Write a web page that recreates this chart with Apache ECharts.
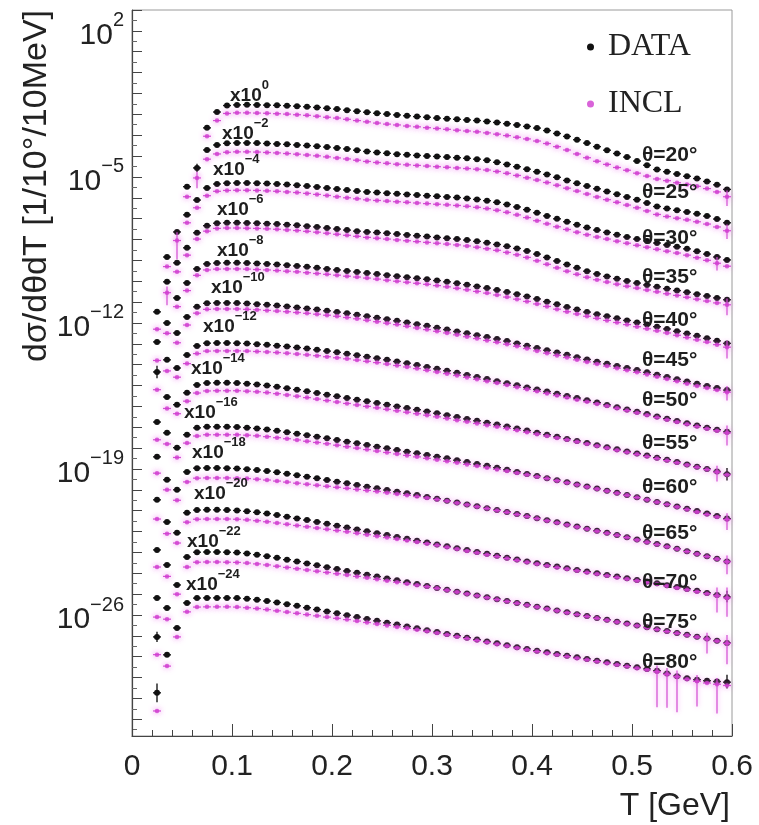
<!DOCTYPE html>
<html>
<head>
<meta charset="utf-8">
<script src="https://cdn.jsdelivr.net/npm/echarts@6/dist/echarts.min.js"></script>
<style>
html, body { margin: 0; padding: 0; background: #fff; }
#chart { width: 759px; height: 825px; }
</style>
</head>
<body>
<div id="chart"></div>
<script>
// Kinetic-energy bin centres [GeV] (10 MeV bins)
const energies = [
  0.025,0.035,0.045,0.055,0.065,0.075,0.085,0.095,0.105,0.115,
  0.125,0.135,0.145,0.155,0.165,0.175,0.185,0.195,0.205,0.215,
  0.225,0.235,0.245,0.255,0.265,0.275,0.285,0.295,0.305,0.315,
  0.325,0.335,0.345,0.355,0.365,0.375,0.385,0.395,0.405,0.415,
  0.425,0.435,0.445,0.455,0.465,0.475,0.485,0.495,0.505,0.515,
  0.525,0.535,0.545,0.555,0.565,0.575,0.585,0.595
];

// Emission angles [deg] and the power of ten each spectrum is multiplied by
const angles = [20, 25, 30, 35, 40, 45, 50, 55, 60, 65, 70, 75, 80];
const scaleExp = [0, -2, -4, -6, -8, -10, -12, -14, -16, -18, -20, -22, -24];

// log10 of dσ/dθdT (unscaled), measured
const data20 = [
  null,null,null,null,null,-2.65,-1.89,-1.58,-1.55,-1.54,
  -1.55,-1.56,-1.57,-1.59,-1.61,-1.64,-1.67,-1.71,-1.75,-1.80,
  -1.85,-1.90,-1.95,-1.99,-2.03,-2.07,-2.11,-2.14,-2.18,-2.21,
  -2.24,-2.27,-2.30,-2.34,-2.39,-2.45,-2.51,-2.58,-2.66,-2.78,
  -2.92,-3.06,-3.22,-3.38,-3.55,-3.72,-3.88,-4.05,-4.24,-4.44,
  -4.65,-4.75,-4.86,-4.97,-5.08,-5.22,-5.38,-5.60
];
const data25 = [
  null,null,null,-3.47,-2.57,-1.71,-1.47,-1.39,-1.37,-1.37,
  -1.38,-1.40,-1.42,-1.44,-1.47,-1.50,-1.53,-1.57,-1.61,-1.66,
  -1.72,-1.78,-1.83,-1.87,-1.91,-1.94,-1.97,-2.00,-2.02,-2.05,
  -2.08,-2.11,-2.15,-2.20,-2.30,-2.40,-2.51,-2.63,-2.75,-2.88,
  -3.02,-3.17,-3.31,-3.44,-3.57,-3.70,-3.83,-3.96,-4.09,-4.25,
  -4.42,-4.52,-4.60,-4.68,-4.77,-4.88,-5.02,-5.20
];
const data30 = [
  null,-4.84,-3.64,-2.82,-2.11,-1.53,-1.34,-1.30,-1.29,-1.29,
  -1.30,-1.32,-1.34,-1.37,-1.40,-1.44,-1.48,-1.53,-1.58,-1.63,
  -1.68,-1.72,-1.75,-1.78,-1.81,-1.84,-1.87,-1.90,-1.93,-1.96,
  -1.99,-2.03,-2.08,-2.14,-2.22,-2.32,-2.44,-2.57,-2.72,-2.87,
  -3.01,-3.15,-3.29,-3.43,-3.55,-3.66,-3.77,-3.88,-3.98,-4.07,
  -4.17,-4.26,-4.35,-4.45,-4.57,-4.70,-4.84,-4.98
];
const data35 = [
  -5.47,-4.03,-3.12,-2.40,-1.68,-1.34,-1.22,-1.20,-1.20,-1.21,
  -1.22,-1.24,-1.26,-1.29,-1.32,-1.36,-1.40,-1.45,-1.50,-1.55,
  -1.60,-1.64,-1.67,-1.70,-1.74,-1.78,-1.82,-1.86,-1.90,-1.94,
  -1.98,-2.03,-2.09,-2.16,-2.24,-2.33,-2.43,-2.55,-2.70,-2.86,
  -3.03,-3.20,-3.36,-3.52,-3.65,-3.77,-3.88,-3.99,-4.09,-4.18,
  -4.27,-4.36,-4.45,-4.53,-4.62,-4.71,-4.80,-4.89
];
const data40 = [
  -4.91,-4.00,-2.80,-2.08,-1.41,-1.17,-1.13,-1.12,-1.12,-1.13,
  -1.15,-1.17,-1.20,-1.23,-1.27,-1.31,-1.36,-1.41,-1.46,-1.51,
  -1.56,-1.61,-1.66,-1.71,-1.76,-1.81,-1.86,-1.91,-1.97,-2.03,
  -2.10,-2.17,-2.25,-2.33,-2.42,-2.52,-2.62,-2.73,-2.85,-2.98,
  -3.11,-3.24,-3.36,-3.48,-3.58,-3.68,-3.78,-3.88,-3.98,-4.08,
  -4.18,-4.29,-4.40,-4.51,-4.62,-4.74,-4.86,-4.98
];
const data45 = [
  -4.35,-3.77,-2.48,-1.71,-1.23,-1.06,-1.04,-1.04,-1.05,-1.07,
  -1.10,-1.13,-1.17,-1.21,-1.26,-1.31,-1.36,-1.42,-1.48,-1.54,
  -1.61,-1.68,-1.75,-1.82,-1.90,-1.98,-2.06,-2.14,-2.23,-2.32,
  -2.41,-2.50,-2.59,-2.68,-2.77,-2.87,-2.98,-3.09,-3.20,-3.31,
  -3.42,-3.53,-3.64,-3.75,-3.86,-3.96,-4.06,-4.16,-4.26,-4.37,
  -4.48,-4.59,-4.70,-4.81,-4.92,-5.02,-5.12,-5.22
];
const data50 = [
  -4.75,-3.55,-2.16,-1.54,-1.10,-0.97,-0.96,-0.96,-0.97,-0.99,
  -1.02,-1.05,-1.09,-1.13,-1.18,-1.23,-1.29,-1.35,-1.41,-1.48,
  -1.55,-1.62,-1.69,-1.77,-1.85,-1.93,-2.02,-2.11,-2.20,-2.29,
  -2.39,-2.49,-2.59,-2.69,-2.79,-2.89,-2.99,-3.09,-3.19,-3.29,
  -3.39,-3.50,-3.60,-3.71,-3.82,-3.93,-4.04,-4.15,-4.26,-4.37,
  -4.48,-4.59,-4.70,-4.81,-4.92,-5.02,-5.12,-5.22
];
const data55 = [
  -4.42,-3.27,-1.92,-1.35,-0.97,-0.88,-0.87,-0.87,-0.88,-0.91,
  -0.95,-1.00,-1.06,-1.13,-1.20,-1.28,-1.36,-1.44,-1.52,-1.60,
  -1.68,-1.76,-1.84,-1.92,-2.00,-2.08,-2.16,-2.24,-2.33,-2.42,
  -2.51,-2.60,-2.69,-2.78,-2.87,-2.96,-3.06,-3.16,-3.26,-3.36,
  -3.46,-3.56,-3.66,-3.76,-3.86,-3.96,-4.06,-4.16,-4.26,-4.36,
  -4.46,-4.56,-4.67,-4.78,-4.89,-5.00,-5.12,-5.25
];
const data60 = [
  -4.48,-3.52,-1.98,-1.36,-1.03,-0.98,-0.98,-0.98,-0.99,-1.02,
  -1.06,-1.11,-1.17,-1.24,-1.31,-1.38,-1.45,-1.53,-1.61,-1.69,
  -1.77,-1.85,-1.93,-2.01,-2.09,-2.17,-2.25,-2.33,-2.41,-2.49,
  -2.58,-2.67,-2.76,-2.85,-2.94,-3.04,-3.14,-3.24,-3.34,-3.44,
  -3.54,-3.64,-3.74,-3.84,-3.94,-4.04,-4.14,-4.25,-4.36,-4.47,
  -4.58,-4.69,-4.80,-4.91,-5.02,-5.13,-5.25,-5.38
];
const data65 = [
  -4.88,-3.54,-2.00,-1.14,-0.96,-0.95,-0.95,-0.96,-0.98,-1.01,
  -1.05,-1.10,-1.16,-1.23,-1.30,-1.37,-1.45,-1.53,-1.61,-1.69,
  -1.77,-1.85,-1.93,-2.01,-2.09,-2.17,-2.25,-2.34,-2.43,-2.52,
  -2.61,-2.70,-2.79,-2.88,-2.97,-3.06,-3.16,-3.26,-3.36,-3.46,
  -3.56,-3.66,-3.76,-3.86,-3.96,-4.06,-4.16,-4.27,-4.38,-4.49,
  -4.60,-4.71,-4.82,-4.94,-5.06,-5.18,-5.30,-5.43
];
const data70 = [
  -5.18,-3.60,-2.06,-1.10,-0.97,-0.96,-0.96,-0.97,-0.99,-1.03,
  -1.08,-1.14,-1.21,-1.29,-1.37,-1.45,-1.54,-1.63,-1.72,-1.81,
  -1.90,-1.99,-2.08,-2.17,-2.26,-2.35,-2.44,-2.53,-2.62,-2.71,
  -2.80,-2.89,-2.98,-3.07,-3.16,-3.25,-3.34,-3.43,-3.52,-3.60,
  -3.68,-3.76,-3.84,-3.92,-4.00,-4.08,-4.16,-4.24,-4.32,-4.40,
  -4.48,-4.57,-4.66,-4.75,-4.84,-4.94,-5.04,-5.14
];
const data75 = [
  -5.05,-3.66,-2.56,-1.22,-0.99,-0.98,-0.98,-0.99,-1.01,-1.05,
  -1.11,-1.18,-1.26,-1.35,-1.44,-1.53,-1.62,-1.71,-1.80,-1.89,
  -1.98,-2.07,-2.16,-2.25,-2.34,-2.43,-2.52,-2.61,-2.70,-2.79,
  -2.88,-2.97,-3.06,-3.15,-3.24,-3.33,-3.42,-3.51,-3.60,-3.69,
  -3.78,-3.87,-3.96,-4.05,-4.14,-4.23,-4.32,-4.41,-4.50,-4.59,
  -4.68,-4.77,-4.86,-4.95,-5.04,-5.13,-5.23,-5.34
];
const data80 = [
  -5.73,-3.91,-2.62,-1.42,-1.19,-1.18,-1.18,-1.18,-1.19,-1.22,
  -1.27,-1.33,-1.40,-1.48,-1.56,-1.65,-1.74,-1.83,-1.92,-2.01,
  -2.10,-2.19,-2.28,-2.37,-2.46,-2.55,-2.64,-2.73,-2.82,-2.91,
  -3.00,-3.09,-3.18,-3.27,-3.36,-3.45,-3.54,-3.63,-3.71,-3.79,
  -3.87,-3.95,-4.03,-4.11,-4.19,-4.27,-4.35,-4.43,-4.51,-4.59,
  -4.67,-4.80,-4.93,-5.03,-5.10,-5.15,-5.19,-5.22
];

// log10 of dσ/dθdT (unscaled), INCL calculation
const incl20 = [
  null,null,null,null,null,-3.05,-2.30,-1.96,-1.93,-1.93,
  -1.94,-1.95,-1.97,-1.99,-2.02,-2.05,-2.09,-2.14,-2.18,-2.24,
  -2.30,-2.36,-2.42,-2.47,-2.51,-2.56,-2.60,-2.64,-2.68,-2.72,
  -2.76,-2.80,-2.84,-2.89,-2.95,-3.02,-3.10,-3.18,-3.28,-3.40,
  -3.55,-3.71,-3.90,-4.08,-4.25,-4.40,-4.55,-4.68,-4.82,-4.96,
  -5.10,-5.18,-5.28,-5.36,-5.45,-5.56,-5.72,-5.95
];
const incl25 = [
  null,null,null,-3.95,-3.05,-2.15,-1.90,-1.82,-1.80,-1.80,
  -1.81,-1.83,-1.85,-1.88,-1.91,-1.95,-1.99,-2.04,-2.09,-2.14,
  -2.20,-2.26,-2.31,-2.35,-2.39,-2.42,-2.45,-2.48,-2.51,-2.54,
  -2.57,-2.60,-2.63,-2.67,-2.74,-2.83,-2.93,-3.04,-3.15,-3.27,
  -3.40,-3.54,-3.68,-3.82,-3.96,-4.09,-4.22,-4.35,-4.48,-4.63,
  -4.80,-4.90,-4.98,-5.06,-5.15,-5.26,-5.40,-5.58
];
const incl30 = [
  null,-5.30,-4.05,-3.20,-2.48,-1.90,-1.69,-1.65,-1.64,-1.64,
  -1.65,-1.67,-1.69,-1.72,-1.75,-1.79,-1.84,-1.89,-1.95,-2.00,
  -2.05,-2.10,-2.13,-2.16,-2.19,-2.22,-2.25,-2.28,-2.31,-2.34,
  -2.37,-2.41,-2.46,-2.52,-2.60,-2.70,-2.82,-2.95,-3.10,-3.25,
  -3.39,-3.52,-3.65,-3.77,-3.88,-3.98,-4.08,-4.18,-4.28,-4.37,
  -4.47,-4.56,-4.65,-4.75,-4.87,-5.00,-5.14,-5.28
];
const incl35 = [
  -6.30,-4.55,-3.55,-2.75,-1.98,-1.60,-1.47,-1.45,-1.45,-1.46,
  -1.47,-1.49,-1.51,-1.54,-1.57,-1.61,-1.65,-1.70,-1.75,-1.80,
  -1.85,-1.90,-1.94,-1.98,-2.02,-2.06,-2.10,-2.14,-2.18,-2.22,
  -2.26,-2.31,-2.37,-2.44,-2.52,-2.62,-2.73,-2.86,-3.02,-3.19,
  -3.36,-3.52,-3.67,-3.81,-3.93,-4.04,-4.14,-4.24,-4.33,-4.42,
  -4.51,-4.60,-4.68,-4.77,-4.86,-4.95,-5.04,-5.13
];
const incl40 = [
  -5.80,-4.50,-3.22,-2.45,-1.72,-1.46,-1.42,-1.41,-1.41,-1.42,
  -1.44,-1.46,-1.49,-1.52,-1.55,-1.59,-1.63,-1.67,-1.71,-1.76,
  -1.80,-1.85,-1.90,-1.95,-2.00,-2.05,-2.10,-2.15,-2.21,-2.27,
  -2.34,-2.41,-2.49,-2.57,-2.66,-2.76,-2.86,-2.97,-3.09,-3.21,
  -3.34,-3.46,-3.57,-3.68,-3.78,-3.88,-3.98,-4.08,-4.18,-4.28,
  -4.38,-4.48,-4.59,-4.70,-4.81,-4.92,-5.04,-5.16
];
const incl45 = [
  -5.20,-4.30,-2.95,-2.10,-1.53,-1.35,-1.33,-1.33,-1.33,-1.35,
  -1.37,-1.40,-1.43,-1.46,-1.50,-1.54,-1.58,-1.63,-1.68,-1.74,
  -1.80,-1.87,-1.94,-2.01,-2.08,-2.16,-2.24,-2.32,-2.40,-2.48,
  -2.57,-2.66,-2.75,-2.84,-2.93,-3.02,-3.12,-3.23,-3.34,-3.45,
  -3.56,-3.66,-3.77,-3.87,-3.97,-4.07,-4.17,-4.27,-4.37,-4.47,
  -4.58,-4.69,-4.80,-4.91,-5.02,-5.12,-5.22,-5.32
];
const incl50 = [
  -5.60,-4.10,-2.60,-1.95,-1.47,-1.35,-1.34,-1.34,-1.34,-1.35,
  -1.37,-1.39,-1.42,-1.45,-1.49,-1.53,-1.57,-1.62,-1.67,-1.72,
  -1.78,-1.84,-1.90,-1.97,-2.04,-2.11,-2.19,-2.27,-2.35,-2.43,
  -2.52,-2.61,-2.70,-2.79,-2.88,-2.98,-3.08,-3.18,-3.28,-3.38,
  -3.48,-3.58,-3.68,-3.78,-3.88,-3.98,-4.09,-4.20,-4.31,-4.42,
  -4.53,-4.64,-4.75,-4.86,-4.97,-5.07,-5.17,-5.27
];
const incl55 = [
  -5.20,-3.80,-2.35,-1.75,-1.36,-1.26,-1.25,-1.25,-1.25,-1.27,
  -1.30,-1.34,-1.39,-1.45,-1.51,-1.58,-1.65,-1.72,-1.79,-1.86,
  -1.93,-2.00,-2.07,-2.14,-2.21,-2.28,-2.35,-2.42,-2.50,-2.58,
  -2.66,-2.74,-2.82,-2.90,-2.98,-3.06,-3.15,-3.24,-3.33,-3.42,
  -3.51,-3.60,-3.70,-3.80,-3.90,-4.00,-4.10,-4.20,-4.30,-4.40,
  -4.50,-4.60,-4.70,-4.81,-4.92,-5.03,-5.15,-5.28
];
const incl60 = [
  -5.40,-4.00,-2.45,-1.76,-1.42,-1.36,-1.36,-1.36,-1.36,-1.38,
  -1.41,-1.45,-1.50,-1.55,-1.61,-1.67,-1.73,-1.79,-1.86,-1.93,
  -2.00,-2.07,-2.14,-2.21,-2.28,-2.35,-2.42,-2.49,-2.56,-2.63,
  -2.70,-2.78,-2.86,-2.94,-3.02,-3.10,-3.19,-3.28,-3.37,-3.46,
  -3.56,-3.66,-3.76,-3.86,-3.96,-4.06,-4.16,-4.26,-4.37,-4.48,
  -4.59,-4.70,-4.82,-4.94,-5.06,-5.18,-5.30,-5.42
];
const incl65 = [
  -5.70,-4.10,-2.50,-1.62,-1.44,-1.43,-1.43,-1.43,-1.44,-1.46,
  -1.49,-1.53,-1.58,-1.63,-1.68,-1.73,-1.78,-1.83,-1.88,-1.93,
  -1.98,-2.03,-2.08,-2.14,-2.20,-2.26,-2.32,-2.39,-2.46,-2.54,
  -2.63,-2.72,-2.81,-2.90,-2.99,-3.08,-3.18,-3.28,-3.38,-3.48,
  -3.58,-3.68,-3.78,-3.88,-3.98,-4.08,-4.18,-4.29,-4.40,-4.51,
  -4.62,-4.73,-4.84,-4.96,-5.08,-5.20,-5.32,-5.45
];
const incl70 = [
  -6.10,-4.15,-2.55,-1.55,-1.41,-1.40,-1.40,-1.40,-1.41,-1.44,
  -1.48,-1.53,-1.59,-1.65,-1.71,-1.77,-1.83,-1.89,-1.95,-2.01,
  -2.08,-2.15,-2.22,-2.29,-2.36,-2.43,-2.50,-2.58,-2.66,-2.75,
  -2.84,-2.93,-3.02,-3.11,-3.20,-3.29,-3.38,-3.47,-3.56,-3.64,
  -3.72,-3.80,-3.88,-3.96,-4.04,-4.12,-4.20,-4.28,-4.36,-4.44,
  -4.52,-4.61,-4.70,-4.79,-4.88,-4.98,-5.08,-5.18
];
const incl75 = [
  -5.90,-4.20,-3.00,-1.70,-1.47,-1.46,-1.46,-1.47,-1.48,-1.51,
  -1.55,-1.60,-1.66,-1.72,-1.78,-1.84,-1.90,-1.96,-2.02,-2.08,
  -2.15,-2.22,-2.29,-2.36,-2.43,-2.50,-2.57,-2.64,-2.72,-2.81,
  -2.90,-2.99,-3.08,-3.17,-3.26,-3.35,-3.44,-3.53,-3.62,-3.71,
  -3.80,-3.89,-3.98,-4.07,-4.16,-4.25,-4.34,-4.43,-4.52,-4.61,
  -4.70,-4.79,-4.88,-4.97,-5.06,-5.15,-5.25,-5.36
];
const incl80 = [
  -6.60,-4.45,-3.05,-1.85,-1.62,-1.61,-1.61,-1.61,-1.62,-1.65,
  -1.69,-1.74,-1.80,-1.86,-1.92,-1.98,-2.04,-2.10,-2.16,-2.22,
  -2.29,-2.36,-2.43,-2.50,-2.57,-2.64,-2.71,-2.78,-2.86,-2.95,
  -3.04,-3.13,-3.22,-3.31,-3.40,-3.49,-3.58,-3.67,-3.75,-3.83,
  -3.91,-3.99,-4.07,-4.15,-4.23,-4.31,-4.39,-4.47,-4.55,-4.63,
  -4.72,-4.84,-4.96,-5.08,-5.18,-5.26,-5.32,-5.38
];

// Statistical errors where they are visible: [angle, T, decades down, decades up]
const dataErrors = [
  [80, 0.025, 0.45, 0.45], [75, 0.025, 0.25, 0.25], [45, 0.025, 0.30, 0.30],
  [25, 0.065, 0.20, 0.20], [55, 0.595, 0.30, 0.30], [70, 0.595, 0.25, 0.30],
  [80, 0.595, 0.30, 0.35]
];
const inclErrors = [
  [20, 0.595, 0.45, 0.30], [25, 0.595, 0.40, 0.30], [30, 0.585, 0.35, 0.30],
  [35, 0.595, 0.50, 0.30], [40, 0.595, 0.55, 0.30], [45, 0.595, 0.40, 0.30],
  [50, 0.595, 0.60, 0.35], [55, 0.585, 0.45, 0.30], [60, 0.595, 0.50, 0.30],
  [65, 0.595, 0.60, 0.30], [70, 0.585, 0.80, 0.40], [70, 0.595, 0.90, 0.50],
  [75, 0.575, 0.70, 0.30], [75, 0.595, 1.00, 0.40], [80, 0.525, 1.70, 0.30],
  [80, 0.535, 1.60, 0.30], [80, 0.545, 1.70, 0.30], [80, 0.565, 1.20, 0.30],
  [80, 0.585, 1.40, 0.30], [25, 0.065, 0.50, 0.30], [30, 0.045, 0.90, 0.40],
  [35, 0.035, 0.60, 0.30]
];

// Decades that carry a label on the vertical axis
const yLabelDecades = [2, -5, -12, -19, -26];
const xTicks = { min: 0, max: 0.6, step: 0.1 };

const dataLogs = [data20, data25, data30, data35, data40, data45, data50, data55, data60, data65, data70, data75, data80];
const inclLogs = [incl20, incl25, incl30, incl35, incl40, incl45, incl50, incl55, incl60, incl65, incl70, incl75, incl80];

const Y_MIN = -31.8, Y_MAX = 3;
const HALF_BIN = 0.004;
const FONT = '"Liberation Sans", Arial, Helvetica, sans-serif';

function supText(e) { return e < 0 ? '\u2212' + (-e) : String(e); }

// [T, log10 of scaled value, err down, err up]
function buildPoints(logs, errs) {
  const pts = [];
  angles.forEach((a, k) => {
    logs[k].forEach((v, i) => {
      if (v == null) return;
      const t = energies[i];
      const e = errs.find(r => r[0] === a && Math.abs(r[1] - t) < 1e-6);
      pts.push([t, v + scaleExp[k], e ? e[2] : 0, e ? e[3] : 0]);
    });
  });
  return pts;
}

const dataPts = buildPoints(dataLogs, dataErrors);
const inclPts = buildPoints(inclLogs, inclErrors);

function barSeries(points, color, width, glow, z) {
  return {
    type: 'custom',
    silent: true,
    z: z,
    data: points,
    dimensions: ['t', 'y', 'dn', 'up'],
    encode: { x: 0, y: 1 },
    renderItem(params, api) {
      const t = api.value(0), y = api.value(1), dn = api.value(2), up = api.value(3);
      const l = api.coord([t - HALF_BIN, y]);
      const r = api.coord([t + HALF_BIN, y]);
      const style = { stroke: color, lineWidth: width };
      if (glow) { style.shadowBlur = 5; style.shadowColor = glow; }
      const kids = [{ type: 'line', shape: { x1: l[0], y1: l[1], x2: r[0], y2: r[1] }, style: style }];
      if (dn > 0 || up > 0) {
        const lo = api.coord([t, Math.max(y - dn, Y_MIN)]);
        const hi = api.coord([t, Math.min(y + up, Y_MAX)]);
        kids.push({ type: 'line', shape: { x1: lo[0], y1: lo[1], x2: hi[0], y2: hi[1] }, style: style });
      }
      return { type: 'group', children: kids };
    }
  };
}

const chart = echarts.init(document.getElementById('chart'), null, { renderer: 'canvas' });

chart.setOption({
  animation: false,
  backgroundColor: '#ffffff',
  grid: { left: 132, right: 27, top: 10, bottom: 89, show: true, borderColor: '#9a9a9a', borderWidth: 1, containLabel: false },
  legend: {
    data: ['DATA', 'INCL'],
    orient: 'vertical',
    left: 582,
    top: 26,
    itemGap: 25,
    itemWidth: 7,
    itemHeight: 7,
    icon: 'circle',
    selectedMode: false,
    textStyle: { fontFamily: '"Liberation Serif", "Times New Roman", serif', fontSize: 32, color: '#222', padding: [0, 0, 0, 9] }
  },
  xAxis: {
    type: 'value',
    min: xTicks.min,
    max: xTicks.max,
    interval: xTicks.step,
    axisLine: { show: true, onZero: false, lineStyle: { color: '#444', width: 1.2 } },
    axisTick: { show: true, inside: true, length: 12, lineStyle: { color: '#444' } },
    minorTick: { show: true, splitNumber: 5, length: 6, lineStyle: { color: '#444' } },
    splitLine: { show: false },
    axisLabel: {
      margin: 16, fontSize: 30, fontFamily: FONT, color: '#222',
      formatter: v => String(Math.round(v * 10) / 10)
    }
  },
  yAxis: {
    type: 'value',
    min: Y_MIN,
    max: Y_MAX,
    minInterval: 1,
    maxInterval: 1,
    axisLine: { show: true, onZero: false, lineStyle: { color: '#444', width: 1.2 } },
    axisTick: { show: true, inside: true, length: 10, lineStyle: { color: '#444', width: 1 } },
    minorTick: { show: true, splitNumber: 2, length: 5, lineStyle: { color: '#666' } },
    splitLine: { show: false },
    axisLabel: {
      margin: 8,
      formatter: v => {
        const e = Math.round(v);
        if (Math.abs(v - e) > 1e-6 || yLabelDecades.indexOf(e) < 0) return '';
        return '{b|10}{s|' + supText(e) + '}';
      },
      rich: {
        b: { fontSize: 30, fontFamily: FONT, color: '#222', lineHeight: 40, verticalAlign: 'bottom' },
        s: { fontSize: 20, fontFamily: FONT, color: '#222', lineHeight: 16, verticalAlign: 'top' }
      }
    }
  },
  series: [
    barSeries(dataPts, '#1a1a1a', 1.4, null, 2),
    {
      name: 'DATA', type: 'scatter', z: 3, symbol: 'circle', symbolSize: 6,
      data: dataPts.map(p => [p[0], p[1]]),
      itemStyle: { color: '#111', opacity: 1 }
    },
    barSeries(inclPts, '#d24ad2', 1.2, 'rgba(240,120,240,0.9)', 4),
    {
      name: 'INCL', type: 'scatter', z: 5, symbol: 'circle', symbolSize: 4.5,
      data: inclPts.map(p => [p[0], p[1]]),
      itemStyle: { color: '#cf3ccf', shadowBlur: 6, shadowColor: 'rgba(240,120,240,0.9)' }
    }
  ]
});

// Text annotations: per-spectrum scale factors and angles
const scaleLabelAnchors = [
  [230, 92], [222, 130], [213, 166], [217, 206], [217, 247], [211, 284], [203, 323],
  [191, 365], [184, 409], [192, 449], [194, 490], [187, 538], [186, 581]
];
const angleLabelAnchors = [
  [642, 155], [642, 192], [642, 238], [642, 277], [642, 320], [642, 360], [642, 400],
  [642, 443], [642, 487], [642, 533], [642, 582], [642, 622], [642, 662]
];

const graphics = [];
scaleExp.forEach((e, k) => {
  graphics.push({
    type: 'text', x: scaleLabelAnchors[k][0], y: scaleLabelAnchors[k][1], z: 100,
    style: {
      text: '{b|x10}{s|' + supText(e) + '}',
      align: 'left', verticalAlign: 'middle',
      rich: {
        b: { fontSize: 19, fontWeight: 'bold', fontFamily: FONT, fill: '#1e1e1e', lineHeight: 26, verticalAlign: 'bottom' },
        s: { fontSize: 13, fontWeight: 'bold', fontFamily: FONT, fill: '#1e1e1e', lineHeight: 12, verticalAlign: 'top' }
      }
    }
  });
});
angles.forEach((a, k) => {
  graphics.push({
    type: 'text', x: angleLabelAnchors[k][0], y: angleLabelAnchors[k][1], z: 100,
    style: {
      text: '\u03b8=' + a + '\u00b0',
      align: 'left', verticalAlign: 'middle',
      fontSize: 21, fontWeight: 'bold', fontFamily: FONT, fill: '#1e1e1e'
    }
  });
});
graphics.push({
  type: 'text', x: 37, y: 10, rotation: Math.PI / 2, z: 100,
  style: {
    text: 'd\u03c3/d\u03b8dT [1/10\u00b0/10MeV]',
    align: 'right', verticalAlign: 'middle',
    fontSize: 34, fontFamily: FONT, fill: '#222'
  }
});
graphics.push({
  type: 'text', x: 730, y: 806, z: 100,
  style: {
    text: 'T [GeV]', align: 'right', verticalAlign: 'middle',
    fontSize: 32, fontFamily: FONT, fill: '#222'
  }
});
chart.setOption({ graphic: graphics });
</script>
</body>
</html>
